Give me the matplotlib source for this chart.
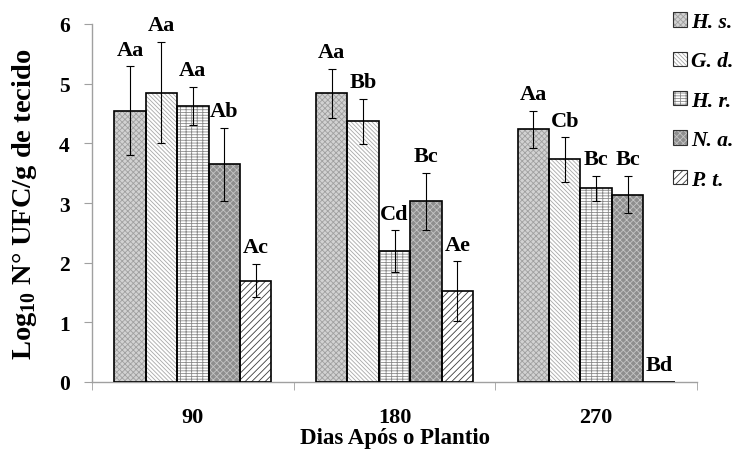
import matplotlib
matplotlib.use('Agg')
import matplotlib.pyplot as plt
import numpy as np

# Dados
dias = ['90', '180', '270']
especies = ['H. s.', 'G. d.', 'H. r.', 'N. a.', 'P. t.']

hs = [4.55, 4.84, 4.24]
gd = [4.85, 4.37, 3.73]
hr = [4.63, 2.19, 3.25]
na = [3.65, 3.03, 3.14]
pt = [1.70, 1.52, 0.0]

hs_err = [0.74, 0.41, 0.31]
gd_err = [0.85, 0.38, 0.37]
hr_err = [0.32, 0.35, 0.21]
na_err = [0.61, 0.48, 0.31]
pt_err = [0.28, 0.50, 0.0]

hs_let = ['Aa', 'Aa', 'Aa']
gd_let = ['Aa', 'Bb', 'Cb']
hr_let = ['Aa', 'Cd', 'Bc']
na_let = ['Ab', 'Bc', 'Bc']
pt_let = ['Ac', 'Ae', 'Bd']

valores = [hs, gd, hr, na, pt]
erros = [hs_err, gd_err, hr_err, na_err, pt_err]
letras = [hs_let, gd_let, hr_let, na_let, pt_let]

# Estilo de cada série (fundo, hachura, cor da hachura)
estilos = [
    ('#d2d2d2', 'xxxxxx', '#a0a0a0'),
    ('white', '\\' * 8, '#a8a8a8'),
    ('white', '+++---', '#8a8a8a'),
    ('#8e8e8e', 'xxxxx', '#c4c4c4'),
    ('white', '/////', '#3c3c3c'),
]

serif = 'Liberation Serif'
plt.rcParams['font.family'] = serif
plt.rcParams['font.weight'] = 'bold'
plt.rcParams['mathtext.fontset'] = 'custom'
plt.rcParams['mathtext.rm'] = serif + ':bold'
plt.rcParams['hatch.linewidth'] = 0.6

fig = plt.figure(figsize=(7.42, 4.52), dpi=100)
ax = fig.add_axes([92 / 742, 69 / 452, 605 / 742, 358 / 452])

x = np.arange(len(dias))
w = 0.156

handles = []
for i in range(5):
    pos = x + (i - 2) * w
    fc, hatch, hc = estilos[i]
    ax.bar(pos, valores[i], w, color=fc, hatch=hatch, edgecolor=hc,
           linewidth=0, zorder=2)
    ax.bar(pos, valores[i], w, fill=False, edgecolor='black',
           linewidth=1.2, zorder=3)
    h1 = plt.Rectangle((0, 0), 1, 1, facecolor=fc, hatch=hatch,
                       edgecolor=hc, linewidth=0)
    h2 = plt.Rectangle((0, 0), 1, 1, fill=False, edgecolor='#303030',
                       linewidth=0.8)
    handles.append((h1, h2))

    # barras de erro (só onde existe erro)
    v = np.array(valores[i])
    e = np.array(erros[i])
    m = e > 0
    ax.errorbar(pos[m], v[m], yerr=e[m], fmt='none', ecolor='black',
                elinewidth=0.8, capsize=3, capthick=0.8, zorder=4)

    for j in range(len(dias)):
        ax.annotate(letras[i][j], (pos[j], v[j] + e[j]),
                    xytext=(0, 8.5), textcoords='offset points',
                    ha='center', va='baseline', fontsize=16,
                    fontweight='bold', zorder=5)

ax.set_xlim(-0.5, 2.5)
ax.set_ylim(0, 6)
ax.set_yticks(range(7))
ax.set_xticks(x)
ax.set_xticklabels(dias)
ax.set_xticks([-0.5, 0.5, 1.5, 2.5], minor=True)

ax.tick_params(axis='x', which='major', length=0, pad=18, labelsize=16)
ax.tick_params(axis='x', which='minor', length=6, color='#a0a0a0',
               direction='out')
ax.tick_params(axis='y', length=6, color='#a0a0a0', pad=10, labelsize=15.5)

for s in ['top', 'right']:
    ax.spines[s].set_visible(False)
for s in ['left', 'bottom']:
    ax.spines[s].set_color('#a0a0a0')
    ax.spines[s].set_linewidth(1.0)

ax.set_ylabel('Log$_{10}$ N° UFC/g de tecido', fontsize=20.5,
              fontweight='bold', labelpad=14)
ax.set_xlabel('Dias Após o Plantio', fontsize=16.5, fontweight='bold',
              labelpad=0)

fig.legend(handles, especies, loc='upper left',
           bbox_to_anchor=(673 / 742, 1 - 13 / 452), frameon=False,
           prop={'family': serif, 'weight': 'bold', 'style': 'italic',
                 'size': 15.5},
           handlelength=0.65, handleheight=0.65, handletextpad=0.2,
           labelspacing=0.9, borderpad=0, borderaxespad=0)

fig.savefig('out.png', dpi=100)
